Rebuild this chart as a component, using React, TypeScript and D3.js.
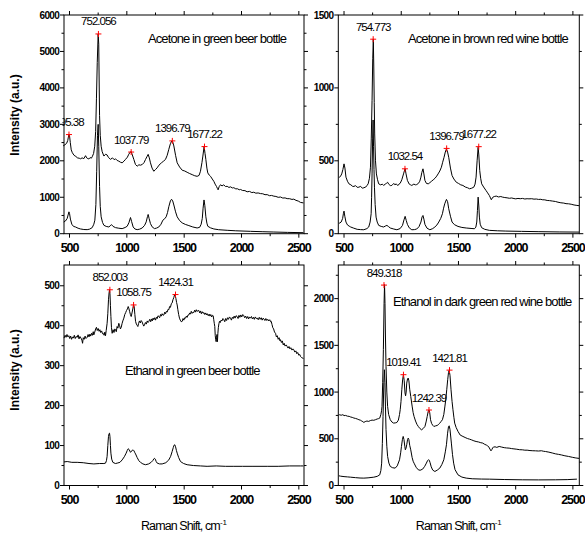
import React from "react";
import * as d3 from "d3";

type Pt = [number, number];

const xMajor = [500, 1000, 1500, 2000, 2500];
const xMinor = [750, 1250, 1750, 2250];

const titles = [
  "Acetone in green beer bottle",
  "Acetone in brown red wine bottle",
  "Ethanol in green beer bottle",
  "Ethanol in dark green red wine bottle",
];

const yMax = [6000, 1500, 552, 2360];
const yMajor1 = [0, 1000, 2000, 3000, 4000, 5000, 6000];
const yMinor1 = [500, 1500, 2500, 3500, 4500, 5500];
const yMajor2 = [0, 500, 1000, 1500];
const yMinor2 = [250, 750, 1250];
const yMajor3 = [0, 100, 200, 300, 400, 500];
const yMinor3 = [50, 150, 250, 350, 450];
const yMajor4 = [0, 500, 1000, 1500, 2000];
const yMinor4 = [250, 750, 1250, 1750, 2250];

const p1Top: Pt[] = [[445,2410],[460,2440],[475,2480],[485,2560],[490,2650],[495,2720],[500,2690],[507,2500],[515,2300],[525,2220],[540,2150],[555,2120],[570,2080],[585,2070],[596,2055],[610,2080],[625,2060],[640,2140],[650,2080],[660,2060],[669,2050],[680,2090],[690,2070],[698,2110],[710,2200],[720,2400],[728,2800],[735,3700],[742,4700],[750,5480],[755,5200],[762,3240],[768,2700],[776,2400],[785,2250],[800,2130],[815,2180],[828,2160],[840,2090],[858,2040],[875,2080],[890,2030],[901,2055],[915,2010],[930,1990],[945,1960],[959,1945],[975,1990],[988,2037],[1005,2100],[1017,2180],[1030,2240],[1038,2250],[1048,2160],[1061,2037],[1075,1900],[1090,1852],[1105,1890],[1119,1880],[1135,1900],[1150,1950],[1163,2037],[1175,2110],[1186,2176],[1196,2080],[1206,1945],[1220,1800],[1235,1713],[1250,1760],[1264,1806],[1280,1880],[1302,1945],[1320,1990],[1337,2037],[1352,2150],[1366,2315],[1380,2470],[1392,2546],[1400,2520],[1410,2407],[1425,2150],[1439,1945],[1460,1830],[1483,1741],[1505,1720],[1526,1685],[1548,1650],[1570,1620],[1592,1590],[1613,1574],[1630,1600],[1642,1713],[1655,1950],[1663,2130],[1674,2390],[1682,2200],[1689,2037],[1698,1800],[1706,1667],[1718,1610],[1730,1574],[1745,1500],[1759,1435],[1770,1360],[1782,1296],[1790,1240],[1796,1204],[1805,1290],[1817,1343],[1830,1310],[1845,1340],[1860,1295],[1875,1300],[1890,1270],[1905,1285],[1920,1255],[1933,1262],[1950,1230],[1965,1232],[1980,1205],[1991,1214],[2010,1185],[2030,1182],[2049,1150],[2070,1160],[2090,1128],[2107,1138],[2125,1112],[2145,1118],[2166,1100],[2185,1096],[2205,1070],[2224,1072],[2245,1042],[2262,1050],[2282,1030],[2300,1022],[2320,998],[2340,1006],[2360,978],[2380,982],[2398,962],[2420,960],[2440,940],[2456,948],[2475,915],[2495,895],[2515,858],[2540,845]];

const p1Ref: Pt[] = [[450,320],[465,350],[480,420],[490,540],[495,600],[500,560],[508,400],[520,260],[535,200],[552,185],[575,150],[596,130],[625,115],[654,111],[675,125],[698,167],[712,260],[721,370],[730,800],[737,1700],[744,2700],[750,3000],[755,2400],[762,1296],[768,750],[776,463],[788,310],[800,231],[820,200],[843,185],[855,215],[866,250],[880,200],[901,167],[930,150],[959,139],[985,170],[1003,204],[1018,300],[1032,444],[1042,330],[1055,185],[1070,130],[1090,111],[1112,125],[1134,157],[1155,230],[1169,324],[1180,470],[1186,528],[1194,420],[1206,278],[1220,190],[1241,139],[1260,155],[1279,185],[1298,260],[1314,370],[1330,410],[1343,463],[1355,580],[1366,741],[1380,900],[1390,944],[1400,900],[1410,787],[1425,600],[1439,463],[1460,360],[1483,296],[1510,255],[1541,222],[1575,185],[1613,157],[1635,175],[1648,259],[1658,420],[1665,700],[1673,926],[1680,780],[1689,463],[1698,290],[1706,204],[1730,160],[1759,130],[1800,110],[1875,93],[1950,80],[2078,65],[2180,55],[2282,46],[2400,36],[2540,28]];

const p2Top: Pt[] = [[455,385],[462,388],[470,395],[480,410],[490,440],[500,479],[508,450],[517,388],[530,360],[543,342],[560,335],[575,325],[587,324],[600,330],[615,318],[630,319],[645,325],[660,312],[673,315],[690,320],[700,330],[711,342],[722,380],[731,456],[738,650],[745,912],[751,1200],[756,1334],[760,1150],[764,900],[768,684],[775,500],[783,410],[793,370],[803,342],[820,335],[835,340],[846,331],[860,340],[870,345],[881,353],[890,340],[905,330],[918,331],[935,345],[945,335],[956,342],[970,330],[980,340],[991,346],[1005,370],[1020,410],[1027,430],[1034,445],[1042,410],[1054,365],[1070,340],[1082,335],[1092,331],[1110,340],[1125,335],[1135,337],[1150,345],[1162,360],[1172,388],[1180,420],[1190,445],[1198,410],[1207,365],[1220,345],[1236,342],[1250,350],[1265,360],[1279,369],[1295,380],[1310,395],[1322,410],[1337,430],[1351,456],[1362,490],[1374,524],[1385,560],[1395,581],[1405,560],[1415,524],[1430,450],[1444,399],[1460,375],[1481,353],[1500,345],[1520,335],[1539,331],[1560,320],[1580,315],[1597,308],[1615,312],[1634,319],[1645,340],[1654,388],[1663,500],[1672,593],[1678,540],[1686,433],[1694,380],[1703,342],[1720,320],[1741,296],[1755,280],[1770,262],[1780,245],[1787,233],[1800,250],[1813,255],[1830,258],[1850,252],[1870,255],[1885,251],[1905,248],[1925,246],[1945,243],[1965,245],[1985,241],[2001,239],[2020,242],[2040,240],[2060,242],[2080,238],[2100,240],[2116,239],[2140,240],[2160,237],[2180,238],[2200,235],[2220,236],[2232,233],[2255,232],[2275,228],[2295,227],[2320,224],[2347,221],[2370,216],[2395,212],[2420,210],[2440,206],[2462,205],[2485,202],[2510,197],[2535,194],[2555,192]];

const p2Ref: Pt[] = [[455,72],[462,73],[475,80],[488,105],[495,140],[500,155],[507,120],[517,80],[530,60],[545,52],[558,46],[585,38],[615,30],[645,28],[673,27],[700,35],[716,46],[728,80],[737,137],[741,250],[745,410],[750,650],[754,780],[758,600],[762,440],[766,319],[772,200],[780,114],[790,80],[803,57],[825,50],[846,46],[860,52],[875,57],[890,48],[904,39],[935,32],[962,27],[990,35],[1011,57],[1024,95],[1034,119],[1044,90],[1054,64],[1070,40],[1092,27],[1115,28],[1135,32],[1155,48],[1172,80],[1182,115],[1190,125],[1198,100],[1207,64],[1225,38],[1250,27],[1275,35],[1294,46],[1312,60],[1328,80],[1345,105],[1360,137],[1370,175],[1380,205],[1395,235],[1405,220],[1415,171],[1430,120],[1444,80],[1465,62],[1496,50],[1530,43],[1568,39],[1610,36],[1640,34],[1652,45],[1660,80],[1666,160],[1672,251],[1678,190],[1683,114],[1690,65],[1703,41],[1730,30],[1770,23],[1840,20],[1914,18],[2050,16],[2203,14],[2380,12],[2555,11]];

const p3Top: Pt[] = [[452,369],[462,376],[470,371],[478,378],[486,372],[494,375],[502,368],[510,374],[518,366],[526,372],[534,369],[542,376],[550,368],[558,373],[567,371],[575,377],[583,367],[591,373],[600,369],[608,364],[614,356],[620,370],[628,366],[636,374],[644,368],[654,371],[662,378],[670,372],[678,379],[685,374],[692,381],[700,376],[707,385],[712,377],[720,384],[728,392],[735,396],[742,388],[750,393],[758,386],[765,390],[772,383],[780,387],[788,380],[794,381],[802,376],[808,384],[814,375],[820,388],[828,406],[834,430],[840,465],[845,482],[849,490],[853,480],[857,450],[861,423],[866,395],[872,381],[880,390],[888,383],[895,392],[901,390],[908,385],[915,398],[922,394],[930,406],[937,400],[944,392],[951,396],[958,405],[965,412],[974,419],[982,428],[990,433],[997,438],[1005,442],[1012,448],[1017,444],[1024,436],[1031,428],[1038,423],[1045,432],[1052,442],[1058,452],[1064,448],[1070,428],[1076,411],[1083,404],[1090,401],[1096,398],[1103,406],[1110,412],[1118,407],[1125,413],[1132,410],[1140,404],[1147,399],[1154,402],[1162,408],[1170,404],[1178,412],[1185,408],[1192,411],[1200,416],[1208,410],[1215,417],[1222,412],[1229,419],[1235,415],[1243,420],[1250,414],[1258,421],[1265,418],[1272,425],[1279,423],[1286,420],[1294,428],[1301,424],[1308,430],[1316,426],[1323,427],[1331,434],[1338,430],[1345,436],[1352,434],[1359,441],[1366,440],[1373,448],[1380,446],[1388,455],[1395,457],[1402,465],[1409,470],[1416,477],[1422,476],[1428,468],[1434,458],[1439,452],[1445,440],[1452,428],[1459,419],[1466,414],[1474,410],[1483,411],[1490,418],[1497,414],[1505,420],[1512,419],[1519,424],[1526,421],[1534,427],[1541,427],[1548,432],[1555,429],[1562,436],[1570,431],[1577,434],[1584,433],[1592,439],[1600,434],[1606,440],[1614,436],[1621,438],[1628,438],[1636,432],[1643,437],[1650,430],[1658,435],[1665,431],[1672,433],[1680,428],[1688,432],[1695,427],[1702,430],[1710,425],[1718,429],[1725,424],[1732,428],[1740,422],[1748,426],[1753,425],[1758,415],[1763,405],[1767,398],[1771,375],[1775,365],[1779,360],[1782,370],[1786,378],[1790,360],[1794,381],[1798,395],[1803,405],[1808,411],[1815,408],[1822,414],[1830,412],[1838,418],[1846,415],[1854,410],[1862,418],[1870,413],[1878,420],[1886,416],[1895,422],[1904,419],[1912,414],[1920,421],[1928,418],[1936,424],[1944,419],[1952,425],[1962,423],[1970,418],[1978,426],[1986,421],[1994,427],[2002,422],[2011,428],[2020,425],[2028,420],[2037,424],[2045,418],[2054,423],[2062,417],[2070,422],[2078,419],[2087,423],[2095,417],[2104,421],[2112,416],[2120,422],[2129,418],[2137,419],[2146,415],[2155,421],[2163,416],[2172,420],[2180,414],[2189,419],[2195,417],[2204,413],[2212,418],[2221,413],[2229,416],[2238,412],[2246,415],[2254,410],[2259,411],[2266,403],[2273,395],[2280,392],[2288,384],[2297,381],[2304,372],[2312,375],[2320,366],[2328,370],[2336,362],[2340,365],[2348,358],[2356,362],[2364,352],[2372,356],[2380,349],[2390,352],[2398,348],[2406,344],[2414,348],[2422,342],[2430,345],[2440,339],[2448,342],[2456,340],[2465,334],[2474,337],[2482,330],[2490,333],[2500,326],[2508,328],[2515,323],[2525,320],[2540,318]];

const p3Ref: Pt[] = [[452,59],[480,60],[520,58],[567,58],[620,57],[670,55],[712,54],[760,55],[800,55],[814,56],[822,62],[828,73],[834,100],[840,123],[845,130],[849,131],[853,122],[857,100],[861,81],[868,66],[878,58],[900,55],[916,56],[940,58],[959,64],[978,72],[994,81],[1004,88],[1012,92],[1020,90],[1032,83],[1042,86],[1050,89],[1055,89],[1062,87],[1070,82],[1076,79],[1090,70],[1105,62],[1119,58],[1140,54],[1163,52],[1190,54],[1212,58],[1228,63],[1236,67],[1241,68],[1248,66],[1256,60],[1265,56],[1285,54],[1308,54],[1340,57],[1366,64],[1382,73],[1395,85],[1405,95],[1412,101],[1418,102],[1425,97],[1432,88],[1439,81],[1452,70],[1468,60],[1495,55],[1526,52],[1580,50],[1642,49],[1700,48],[1780,49],[1860,48],[1933,48],[2010,48],[2100,48],[2224,48],[2320,48],[2420,49],[2515,49],[2540,49]];

const p4Top: Pt[] = [[455,757],[462,757],[475,752],[490,758],[500,748],[514,750],[530,742],[545,740],[558,733],[572,729],[586,722],[600,718],[615,712],[630,704],[645,698],[655,690],[665,683],[673,675],[685,684],[700,690],[716,686],[730,695],[745,700],[760,698],[774,704],[790,712],[800,715],[812,721],[822,760],[828,800],[832,846],[838,1100],[844,1454],[850,1950],[854,2150],[858,1950],[862,1600],[867,1275],[874,1000],[881,846],[890,760],[904,704],[918,680],[933,668],[948,670],[962,675],[975,700],[985,760],[991,811],[998,900],[1005,1025],[1012,1130],[1019,1186],[1026,1120],[1033,990],[1038,960],[1043,1000],[1048,1096],[1055,1140],[1061,1150],[1067,1120],[1074,1030],[1083,954],[1095,850],[1104,780],[1112,739],[1125,690],[1137,655],[1149,632],[1163,610],[1178,596],[1192,610],[1207,632],[1217,680],[1227,739],[1235,790],[1242,808],[1249,780],[1256,704],[1265,665],[1275,645],[1285,632],[1300,638],[1315,643],[1323,650],[1335,665],[1348,685],[1360,704],[1372,760],[1382,850],[1389,918],[1398,1030],[1406,1132],[1413,1210],[1419,1232],[1426,1180],[1435,1025],[1444,900],[1452,811],[1460,730],[1467,668],[1480,620],[1496,579],[1515,540],[1539,525],[1565,510],[1580,502],[1597,496],[1615,488],[1635,478],[1654,471],[1675,466],[1695,458],[1712,454],[1730,440],[1745,432],[1755,425],[1765,412],[1775,390],[1784,371],[1792,385],[1800,405],[1805,411],[1820,414],[1835,408],[1856,418],[1875,412],[1900,405],[1920,402],[1943,400],[1965,395],[1985,392],[2010,388],[2035,383],[2058,382],[2080,378],[2100,378],[2125,374],[2150,372],[2174,371],[2200,369],[2225,372],[2245,366],[2260,364],[2290,357],[2320,348],[2347,339],[2375,333],[2400,327],[2430,318],[2462,311],[2495,302],[2520,296],[2535,293],[2555,290]];

const p4Ref: Pt[] = [[455,104],[470,100],[500,95],[530,92],[558,89],[600,84],[640,80],[673,79],[710,82],[760,89],[790,98],[812,114],[822,160],[829,239],[835,450],[841,739],[848,1100],[853,1239],[858,1100],[862,850],[867,600],[874,420],[881,311],[892,240],[904,204],[925,190],[947,186],[965,210],[985,275],[995,350],[1002,418],[1010,490],[1017,525],[1024,490],[1031,420],[1036,382],[1042,400],[1048,436],[1055,490],[1061,507],[1067,490],[1074,430],[1083,382],[1095,300],[1104,260],[1112,239],[1130,195],[1149,168],[1165,163],[1187,175],[1205,205],[1220,240],[1230,266],[1238,276],[1245,270],[1252,245],[1262,200],[1275,165],[1294,150],[1315,165],[1337,186],[1355,225],[1372,275],[1385,360],[1395,436],[1405,560],[1413,630],[1419,639],[1426,600],[1438,454],[1448,330],[1458,239],[1470,170],[1496,114],[1530,90],[1568,79],[1620,72],[1700,69],[1770,68],[1900,64],[2058,61],[2200,60],[2347,61],[2450,63],[2535,68]];

const peakX1 = [495.38, 752.056, 1037.79, 1396.79, 1677.22];
const peakY1 = [2720, 5480, 2240, 2546, 2390];
const peakL1 = ["495.38", "752.056", "1037.79", "1396.79", "1677.22"];
const peakX2 = [754.773, 1032.54, 1396.79, 1677.22];
const peakY2 = [1334, 445, 585, 597];
const peakL2 = ["754.773", "1032.54", "1396.79", "1677.22"];
const peakX3 = [852.003, 1058.75, 1424.31];
const peakY3 = [490, 452, 478];
const peakL3 = ["852.003", "1058.75", "1424.31"];
const peakX4 = [849.318, 1019.41, 1242.39, 1421.81];
const peakY4 = [2145, 1186, 808, 1235];
const peakL4 = ["849.318", "1019.41", "1242.39", "1421.81"];

const FONT = "'Liberation Sans', Arial, Helvetica, sans-serif";

type PanelDef = {
  x0: number; x1: number; y0: number; y1: number;
  xDom: [number, number];
  yMax: number;
  yMajor: number[]; yMinor: number[];
  top: Pt[]; ref: Pt[];
  px: number[]; py: number[]; pl: string[];
  title: string; tx: number; ty: number;
};

const panels: PanelDef[] = [
  { x0: 64, x1: 304, y0: 15, y1: 233.7, xDom: [452, 2545], yMax: yMax[0], yMajor: yMajor1, yMinor: yMinor1, top: p1Top, ref: p1Ref, px: peakX1, py: peakY1, pl: peakL1, title: titles[0], tx: 148, ty: 42.5 },
  { x0: 338.3, x1: 579.3, y0: 15, y1: 233.7, xDom: [450, 2556], yMax: yMax[1], yMajor: yMajor2, yMinor: yMinor2, top: p2Top, ref: p2Ref, px: peakX2, py: peakY2, pl: peakL2, title: titles[1], tx: 408, ty: 43 },
  { x0: 64, x1: 304, y0: 265, y1: 485.5, xDom: [452, 2545], yMax: yMax[2], yMajor: yMajor3, yMinor: yMinor3, top: p3Top, ref: p3Ref, px: peakX3, py: peakY3, pl: peakL3, title: titles[2], tx: 125, ty: 375 },
  { x0: 338.3, x1: 579.3, y0: 265, y1: 485.5, xDom: [450, 2556], yMax: yMax[3], yMajor: yMajor4, yMinor: yMinor4, top: p4Top, ref: p4Ref, px: peakX4, py: peakY4, pl: peakL4, title: titles[3], tx: 393, ty: 306 },
];

function Panel({ p, i }: { p: PanelDef; i: number }) {
  const x = d3.scaleLinear().domain(p.xDom).range([p.x0, p.x1]);
  const y = d3.scaleLinear().domain([0, p.yMax]).range([p.y1, p.y0]);
  const line = d3.line<Pt>().x((d) => x(d[0])).y((d) => y(d[1])).curve(d3.curveLinear);
  const clipId = `clip${i}`;
  const showXLabels = i >= 2 || true;
  return (
    <g>
      <defs>
        <clipPath id={clipId}>
          <rect x={p.x0 - 1.5} y={p.y0 - 20} width={p.x1 - p.x0 + 1.5} height={p.y1 - p.y0 + 20} />
        </clipPath>
      </defs>
      <g clipPath={`url(#${clipId})`}>
        <path d={line(p.ref) || ""} fill="none" stroke="#000" strokeWidth={1} strokeLinejoin="round" />
        <path d={line(p.top) || ""} fill="none" stroke="#000" strokeWidth={1} strokeLinejoin="round" />
        {p.px.map((v, k) => (
          <g key={k}>
            <path
              d={`M${x(v) - 3},${y(p.py[k])}H${x(v) + 3}M${x(v)},${y(p.py[k]) - 3}V${y(p.py[k]) + 3}`}
              stroke="#ff0000"
              strokeWidth={1}
            />
            <text
              x={x(v)}
              y={y(p.py[k]) - 8.5}
              textAnchor="middle"
              fontFamily={FONT}
              fontSize={11.5}
              letterSpacing={-1}
              fill="#000"
            >
              {p.pl[k]}
            </text>
          </g>
        ))}
      </g>
      <rect x={p.x0} y={p.y0} width={p.x1 - p.x0} height={p.y1 - p.y0} fill="none" stroke="#000" strokeWidth={1} />
      {xMajor.map((t) => (
        <g key={"xm" + t}>
          <line x1={x(t)} x2={x(t)} y1={p.y1} y2={p.y1 + 4} stroke="#000" />
          <line x1={x(t)} x2={x(t)} y1={p.y0} y2={p.y0 - 4} stroke="#000" />
          {showXLabels && (
            <text x={x(t)} y={p.y1 + 18.5} textAnchor="middle" fontFamily={FONT} fontWeight="bold" fontSize={12.5} letterSpacing={-1.1} fill="#000">
              {t}
            </text>
          )}
        </g>
      ))}
      {xMinor.map((t) => (
        <g key={"xn" + t}>
          <line x1={x(t)} x2={x(t)} y1={p.y1} y2={p.y1 + 2.5} stroke="#000" />
          <line x1={x(t)} x2={x(t)} y1={p.y0} y2={p.y0 - 2.5} stroke="#000" />
        </g>
      ))}
      {p.yMajor.map((t) => (
        <g key={"ym" + t}>
          <line x1={p.x0} x2={p.x0 - 4} y1={y(t)} y2={y(t)} stroke="#000" />
          <line x1={p.x1} x2={p.x1 + 4} y1={y(t)} y2={y(t)} stroke="#000" />
          <text x={p.x0 - 5} y={y(t) + 3.5} textAnchor="end" fontFamily={FONT} fontWeight="bold" fontSize={10} letterSpacing={-0.7} fill="#000">
            {t}
          </text>
        </g>
      ))}
      {p.yMinor.map((t) => (
        <g key={"yn" + t}>
          <line x1={p.x0} x2={p.x0 - 2.5} y1={y(t)} y2={y(t)} stroke="#000" />
          <line x1={p.x1} x2={p.x1 + 2.5} y1={y(t)} y2={y(t)} stroke="#000" />
        </g>
      ))}
      <text x={p.tx} y={p.ty} fontFamily={FONT} fontSize={13} letterSpacing={-0.9} fill="#000">
        {p.title}
      </text>
    </g>
  );
}

export default function App() {
  return (
    <svg width={585} height={534} style={{ position: "absolute", left: 0, top: 0, background: "#fff" }}>
      <rect x={0} y={0} width={585} height={534} fill="#fff" />
      {panels.map((p, i) => (
        <Panel key={i} p={p} i={i} />
      ))}
      <text transform="translate(19,115) rotate(-90)" textAnchor="middle" fontFamily={FONT} fontWeight="bold" fontSize={12} fill="#000">
        Intensity (a.u.)
      </text>
      <text transform="translate(19,370) rotate(-90)" textAnchor="middle" fontFamily={FONT} fontWeight="bold" fontSize={12} fill="#000">
        Intensity (a.u.)
      </text>
      {[184, 458.8].map((cx, k) => (
        <text key={k} x={cx} y={530} textAnchor="middle" fontFamily={FONT} fontSize={12.5} letterSpacing={-0.9} fill="#000">
          Raman Shift, cm
          <tspan dy={-5} fontSize={8} letterSpacing={0}>-1</tspan>
        </text>
      ))}
    </svg>
  );
}
